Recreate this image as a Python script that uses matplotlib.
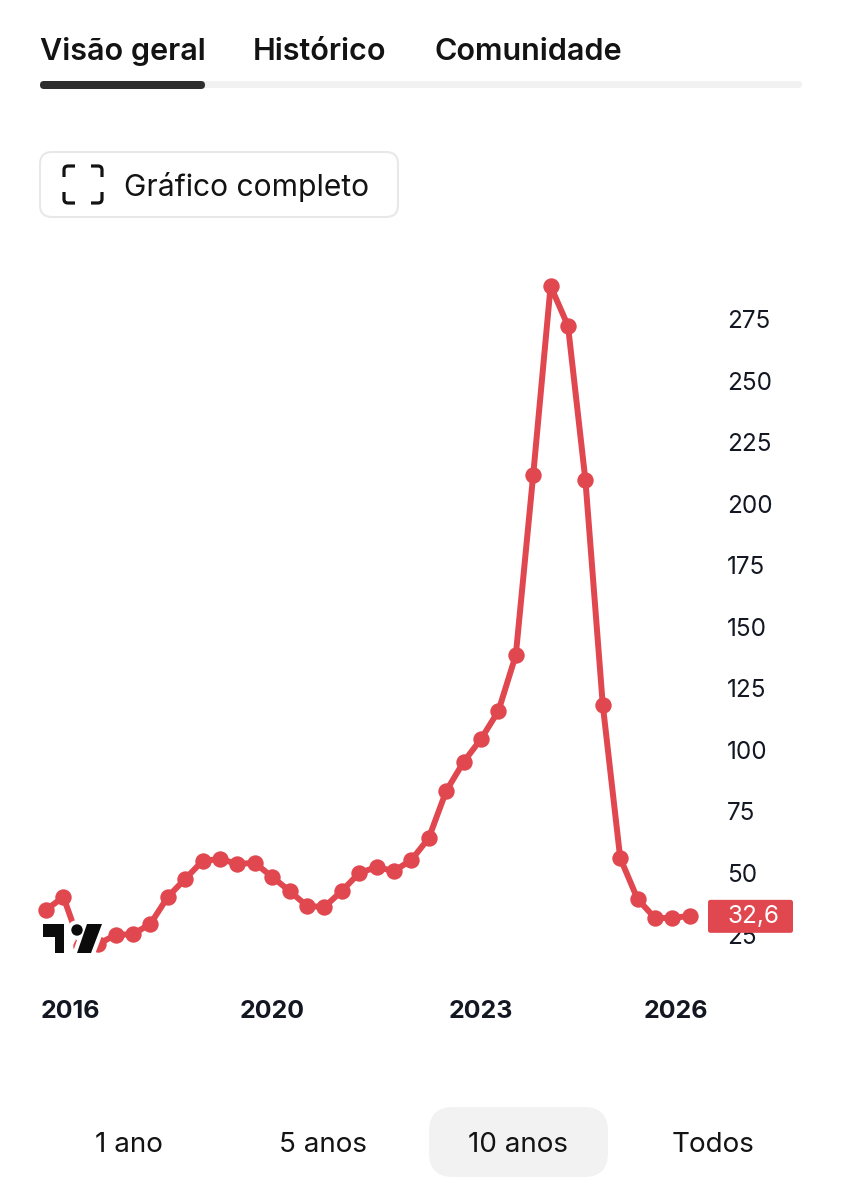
import matplotlib
matplotlib.use("Agg")
import matplotlib.pyplot as plt
from matplotlib.patches import FancyBboxPatch, Polygon, Circle
from matplotlib.path import Path
from matplotlib.patches import PathPatch

plt.rcParams['font.family'] = ['Inter', 'Liberation Sans', 'DejaVu Sans']

W, H = 842, 1199
RED = '#E0474F'

values = [35.0, 40.3, 20.3, 21.2, 24.8, 25.2, 29.3, 40.3, 47.6, 54.9, 55.7, 53.7, 54.1,
          48.4, 42.7, 36.6, 36.2, 42.7, 50.0, 52.4, 50.8, 55.3, 64.2, 83.3, 95.1, 104.4,
          115.8, 138.5, 211.7, 288.4, 272.2, 209.6, 118.2, 56.1, 39.4, 31.7, 31.7, 32.6]
year_ticks = [1.4, 13.0, 25.0, 36.2]
year_labels = ['2016', '2020', '2023', '2026']
price_ticks = [25, 50, 75, 100, 125, 150, 175, 200, 225, 250, 275]
tabs = ['Visão geral', 'Histórico', 'Comunidade']
ranges = ['1 ano', '5 anos', '10 anos', 'Todos']
last_label = '32,6'

fig = plt.figure(figsize=(W / 100, H / 100), dpi=100, facecolor='white')

# chart axes: pixel box left 40, right 705, top 260, bottom 1000
L, R, T, B = 40, 705, 260, 1000
ax = fig.add_axes([L / W, 1 - B / H, (R - L) / W, (B - T) / H], zorder=1)
ax.patch.set_alpha(0)
ax.set_xlim((L - 46) / 17.4, (R - 46) / 17.4)
ax.set_ylim(50 + (873 - B) / 2.462, 50 + (873 - T) / 2.462)
ax.plot(range(len(values)), values, color=RED, lw=4.3, marker='o', ms=11.8,
        mew=0, solid_joinstyle='round', clip_on=False)
for s in ax.spines.values():
    s.set_visible(False)
ax.yaxis.tick_right()
ax.set_yticks(price_ticks)
ax.set_yticklabels([str(v) for v in price_ticks], fontsize=17.5, color='#131722', ha='left')
ax.tick_params(axis='y', length=0, pad=16)
ax.set_xticks(year_ticks)
ax.set_xticklabels(year_labels, fontsize=18, fontweight='bold', color='#131722')
ax.tick_params(axis='x', length=0, pad=0)

# overlay in pixel coordinates for the app interface
ui = fig.add_axes([0, 0, 1, 1], zorder=2)
ui.set_xlim(0, W)
ui.set_ylim(H, 0)
ui.axis('off')
ui.patch.set_alpha(0)


def rbox(x0, y0, x1, y1, r, fc, ec='none', lw=0, z=2):
    p = FancyBboxPatch((x0 + r, y0 + r), x1 - x0 - 2 * r, y1 - y0 - 2 * r,
                       boxstyle=f'round,pad={r},rounding_size={r}', fc=fc, ec=ec, lw=lw, zorder=z)
    ui.add_patch(p)


# tabs
for t, x in zip(tabs, [40, 253, 435]):
    ui.text(x, 52, t, fontsize=22, fontweight='semibold', color='#131313', ha='left', va='center')
rbox(40, 81, 802, 88, 3.5, '#F1F1F1')
rbox(40, 81, 205, 89, 4, '#2E2E2E')

# full chart button
rbox(40, 152, 398, 217, 12, 'white', '#E8E8E8', 1.5)
ui.text(124, 187, 'Gráfico completo', fontsize=21.6, color='#131313', ha='left', va='center', zorder=3)
for cx, cy, sx, sy in [(64, 166, 1, 1), (102, 166, -1, 1), (64, 203, 1, -1), (102, 203, -1, -1)]:
    verts = [(cx, cy + sy * 11), (cx, cy + sy * 4), (cx, cy), (cx + sx * 4, cy), (cx + sx * 11, cy)]
    codes = [Path.MOVETO, Path.LINETO, Path.CURVE3, Path.CURVE3, Path.LINETO]
    ui.add_patch(PathPatch(Path(verts, codes), fc='none', ec='#131313', lw=2.3, capstyle='butt', zorder=3))


def logo_shapes():
    return [
        Polygon([(43, 924), (64, 924), (64, 953), (55, 953), (55, 937), (43, 937)], closed=True),
        Circle((77, 930), 5.7),
        Polygon([(87, 924), (102, 924), (91, 953), (77, 953)], closed=True),
    ]


# watermark logo with its white halo
for p in logo_shapes():
    p.set(fc='white', ec='white', lw=6, zorder=3, joinstyle='round')
    ui.add_patch(p)
for p in logo_shapes():
    p.set(fc='#0B0B0B', ec='none', zorder=4)
    ui.add_patch(p)

# last value badge
_, y_last = ui.transData.inverted().transform(ax.transData.transform((0, values[-1])))
rbox(708, y_last - 16, 793, y_last + 17, 2.5, RED, z=5)
ui.text(753.5, y_last + 1, last_label, fontsize=17.5, color='white', ha='center', va='center', zorder=6)

# range selector
rbox(429, 1107, 608, 1177, 24, '#F2F2F2')
for t, x in zip(ranges, [129, 323, 518, 713]):
    ui.text(x, 1145, t, fontsize=20, color='#131313', ha='center', va='center', zorder=3)

fig.savefig('out.png', dpi=100, facecolor='white')
